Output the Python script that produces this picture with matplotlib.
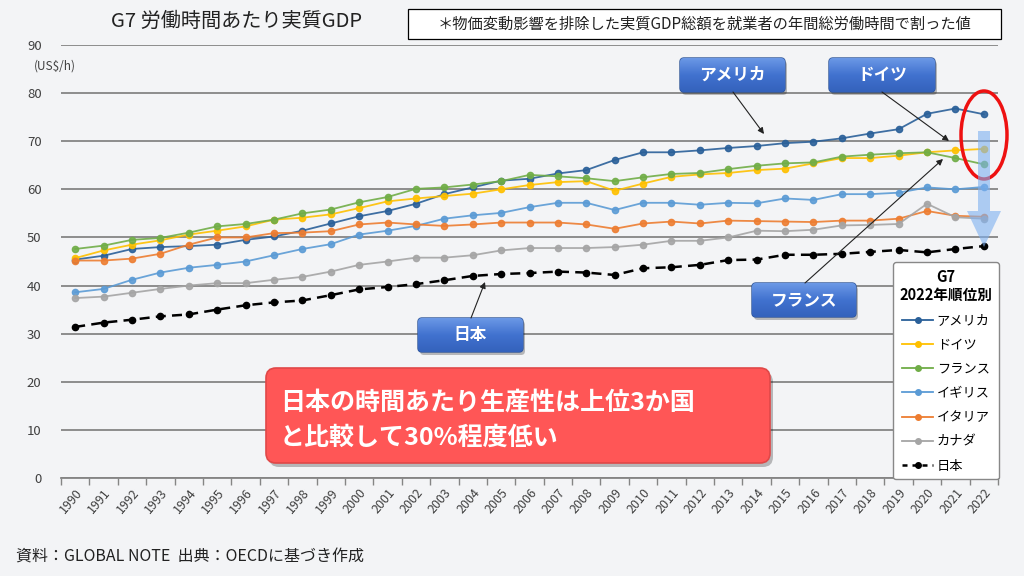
import numpy as np
import matplotlib
matplotlib.use("Agg")
import matplotlib.pyplot as plt
from matplotlib.patches import FancyBboxPatch, Ellipse, FancyArrow
from matplotlib.lines import Line2D

plt.rcParams['font.family'] = ['Noto Sans CJK JP', 'DejaVu Sans']

# --- data (US$/h) ---
years = [1990, 1991, 1992, 1993, 1994, 1995, 1996, 1997, 1998, 1999, 2000,
         2001, 2002, 2003, 2004, 2005, 2006, 2007, 2008, 2009, 2010, 2011,
         2012, 2013, 2014, 2015, 2016, 2017, 2018, 2019, 2020, 2021, 2022]

usa = [45.4, 46.2, 47.6, 48.0, 48.2, 48.5, 49.5, 50.2, 51.4, 52.9, 54.4,
       55.5, 57.0, 59.0, 60.4, 61.8, 62.2, 63.3, 64.0, 66.1, 67.7, 67.7,
       68.1, 68.6, 69.0, 69.6, 69.9, 70.6, 71.6, 72.5, 75.7, 76.8, 75.6]
germany = [45.7, 47.3, 48.5, 49.4, 50.6, 51.4, 52.3, 53.7, 54.1, 54.8, 56.1,
           57.5, 58.1, 58.6, 59.1, 60.0, 60.9, 61.5, 61.7, 59.7, 61.2, 62.6,
           63.1, 63.4, 64.0, 64.3, 65.4, 66.5, 66.5, 67.0, 67.7, 68.1, 68.4]
france = [47.6, 48.3, 49.5, 49.9, 51.0, 52.3, 52.8, 53.7, 55.0, 55.8, 57.3,
          58.4, 60.1, 60.4, 61.0, 61.7, 63.0, 62.7, 62.3, 61.7, 62.5, 63.2,
          63.4, 64.2, 64.9, 65.4, 65.6, 66.8, 67.2, 67.5, 67.7, 66.5, 65.2]
uk = [38.6, 39.3, 41.2, 42.7, 43.7, 44.3, 45.0, 46.3, 47.6, 48.6, 50.6,
      51.4, 52.4, 53.9, 54.6, 55.1, 56.3, 57.2, 57.2, 55.7, 57.2, 57.2,
      56.8, 57.2, 57.1, 58.1, 57.8, 59.0, 59.0, 59.3, 60.4, 60.0, 60.5]
italy = [45.2, 45.2, 45.6, 46.6, 48.5, 50.0, 50.0, 50.9, 51.0, 51.3, 52.7,
         53.1, 52.7, 52.4, 52.7, 53.1, 53.1, 53.1, 52.7, 51.8, 52.9, 53.3,
         52.9, 53.5, 53.4, 53.3, 53.2, 53.5, 53.5, 53.9, 55.5, 54.5, 54.3]
canada = [37.4, 37.7, 38.5, 39.3, 40.0, 40.5, 40.5, 41.2, 41.8, 42.9, 44.3,
          45.0, 45.8, 45.8, 46.3, 47.3, 47.8, 47.8, 47.8, 48.0, 48.5, 49.3,
          49.3, 50.0, 51.4, 51.3, 51.6, 52.5, 52.6, 52.8, 57.0, 54.2, 53.9]
japan = [31.4, 32.3, 32.9, 33.6, 34.0, 35.0, 35.9, 36.5, 36.9, 38.0, 39.2,
         39.7, 40.3, 41.1, 42.0, 42.4, 42.6, 42.9, 42.7, 42.2, 43.6, 43.8,
         44.3, 45.3, 45.4, 46.4, 46.4, 46.6, 47.0, 47.4, 46.9, 47.6, 48.2]

names = ['アメリカ', 'ドイツ', 'フランス', 'イギリス', 'イタリア', 'カナダ']
colors = ['#2A6099', '#FFC000', '#70AD47', '#5B9BD5', '#ED7D31', '#A5A5A5']
series = [usa, germany, france, uk, italy, canada]

BG = '#F3F4F6'
W, H = 1024, 576

fig = plt.figure(figsize=(W / 100, H / 100), dpi=100, facecolor=BG)

# main axes, placed to match the pixel layout of the reference
ax = fig.add_axes([61 / W, 1 - 478 / H, (998 - 61) / W, (478 - 45) / H])
ax.set_facecolor(BG)

for vals, c, n in zip(series, colors, names):
    ax.plot(years, vals, color=c, lw=1.3, marker='o', ms=4.5, alpha=0.9,
            label=n, zorder=3)
ax.plot(years, japan, color='black', lw=1.8, ls=(0, (4, 2.5)), marker='o',
        ms=4.5, label='日本', zorder=4)

ax.set_xlim(years[0] - 0.5, years[-1] + 0.5)
ax.set_ylim(0, 90)
ax.set_yticks(np.arange(0, 91, 10))
ax.yaxis.grid(True, color='#858585', lw=1.3)
ax.set_axisbelow(True)
for s in ['top', 'right', 'left']:
    ax.spines[s].set_visible(False)
ax.spines['bottom'].set_color('#858585')
ax.spines['bottom'].set_linewidth(1.3)
ax.tick_params(axis='y', length=0, pad=14, labelsize=9.5, labelcolor='#404040')

ax.set_xticks(years)
ax.set_xticklabels([str(y) for y in years], rotation=50, ha='right',
                   rotation_mode='anchor', fontsize=9, color='#404040')
ax.tick_params(axis='x', which='major', length=0, pad=6)
ax.set_xticks(np.arange(years[0] - 0.5, years[-1] + 1), minor=True)
ax.tick_params(axis='x', which='minor', length=5, color='#858585', width=1)

# overlay in pixel coordinates for boxes, arrows and notes
ov = fig.add_axes([0, 0, 1, 1], zorder=10)
ov.set_xlim(0, W)
ov.set_ylim(H, 0)
ov.axis('off')

ov.text(55, 66, '(US$/h)', fontsize=8.5, color='#404040', ha='center', va='center')
ov.text(237, 21, 'G7 労働時間あたり実質GDP', fontsize=14.5, ha='center', va='center',
        color='#222222')
ov.add_patch(plt.Rectangle((408, 9), 593, 30, fc='white', ec='black', lw=0.9))
ov.text(705, 24, '＊物価変動影響を排除した実質GDP総額を就業者の年間総労働時間で割った値',
        fontsize=11, ha='center', va='center', color='#222222')
ov.text(16, 557, '資料：GLOBAL NOTE  出典：OECDに基づき作成', fontsize=11.5,
        ha='left', va='center', color='#222222')


def blue_box(x0, y0, w, h, label):
    shadow = FancyBboxPatch((x0 + 2, y0 + 3), w, h, boxstyle='round,pad=0,rounding_size=4',
                            fc='#000000', ec='none', alpha=0.25)
    ov.add_patch(shadow)
    box = FancyBboxPatch((x0, y0), w, h, boxstyle='round,pad=0,rounding_size=4',
                         fc='#3E6FCB', ec='#2F5597', lw=1)
    ov.add_patch(box)
    grad = np.linspace(0, 1, 64).reshape(-1, 1)
    img = ov.imshow(grad, extent=(x0, x0 + w, y0 + h, y0), aspect='auto',
                    cmap=matplotlib.colors.LinearSegmentedColormap.from_list(
                        'b', ['#6B98E6', '#4172CF', '#3462BC']), zorder=2)
    img.set_clip_path(box)
    ov.text(x0 + w / 2, y0 + h / 2, label, color='white', fontsize=12,
            fontweight='bold', ha='center', va='center', zorder=3)


def arrow(start, tip):
    ov.annotate('', xy=tip, xytext=start,
                arrowprops=dict(arrowstyle='-|>', color='#222222', lw=0.8,
                                mutation_scale=9, shrinkA=0, shrinkB=0))


blue_box(680, 58, 105, 34, 'アメリカ')
blue_box(829, 58, 106, 34, 'ドイツ')
blue_box(752, 283, 104, 34, 'フランス')
blue_box(418, 318, 105, 34, '日本')
arrow((733, 92), (764, 134))
arrow((882, 92), (949, 141))
arrow((805, 283), (943, 159))
arrow((471, 318), (485, 282))

# red message box
ov.add_patch(FancyBboxPatch((269, 372), 504, 95, boxstyle='round,pad=0,rounding_size=10',
                            fc='#000000', ec='none', alpha=0.25))
ov.add_patch(FancyBboxPatch((266, 368), 504, 95, boxstyle='round,pad=0,rounding_size=10',
                            fc='#FF5656', ec='#E04848', lw=1.2))
ov.text(280, 403, '日本の時間あたり生産性は上位3か国', color='white', fontsize=18,
        fontweight='bold', ha='left', va='center')
ov.text(280, 438, 'と比較して30%程度低い', color='white', fontsize=18,
        fontweight='bold', ha='left', va='center')

# red ellipse and pale blue down arrow
ov.add_patch(Ellipse((984, 135), 46, 88, fc='none', ec='#EE1111', lw=2.5))
ov.add_patch(FancyArrow(984, 131, 0, 116, width=12, head_width=34, head_length=36,
                        length_includes_head=True, fc='#7EB0F0', ec='none', alpha=0.6))

# legend
handles = [Line2D([], [], color=c, lw=1.3, marker='o', ms=4) for c in colors]
handles.append(Line2D([], [], color='black', lw=1.8, ls=(0, (2, 2)), marker='o', ms=4))
leg = ov.legend(handles, names + ['日本'], loc='upper left',
                bbox_to_anchor=(893 / W, 1 - 262 / H), bbox_transform=fig.transFigure,
                borderaxespad=0, fontsize=9.5, labelspacing=0.85, handlelength=2.3,
                handletextpad=0.3, title='G7\n2022年順位別', frameon=True,
                fancybox=True, borderpad=0.5)
leg._legend_box.align = 'center'
leg.get_title().set_fontweight('bold')
leg.get_title().set_fontsize(10.5)
leg.get_title().set_multialignment('center')
leg.get_frame().set_edgecolor('#888888')
leg.get_frame().set_facecolor('white')
leg.get_frame().set_alpha(1)

fig.savefig('out.png', dpi=100, facecolor=BG)
